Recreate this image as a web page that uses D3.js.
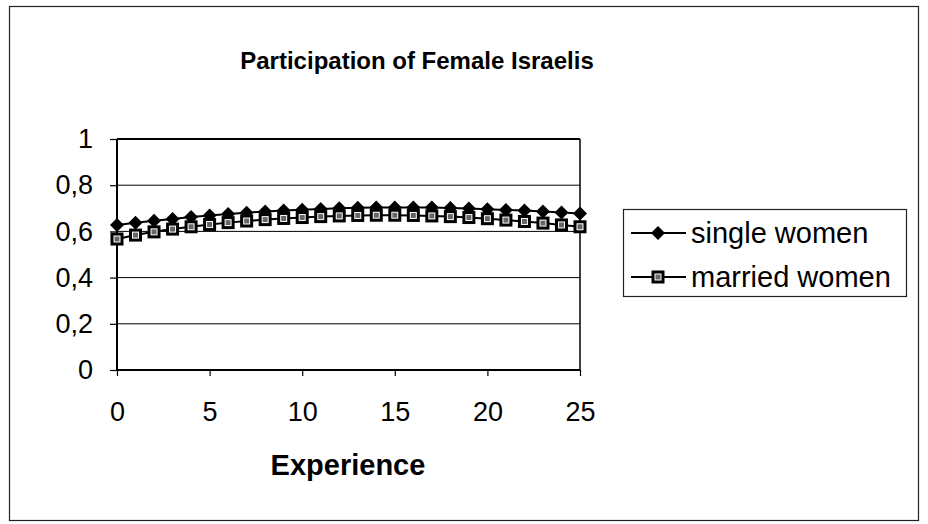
<!DOCTYPE html>
<html>
<head>
<meta charset="utf-8">
<title>Participation of Female Israelis</title>
<script src="https://d3js.org/d3.v7.min.js"></script>
<style>
    body { margin: 0; background: #fff; }
    svg text { font-family: "Liberation Sans", Arial, sans-serif; fill: #000; }
    .title { font-weight: bold; font-size: 24px; }
    .xlabel { font-weight: bold; font-size: 29px; }
    .tick text { font-size: 27px; }
    .legend text { font-size: 29px; }
</style>
</head>
<body>
<script>
// experience years 0..25
var experience = [0,1,2,3,4,5,6,7,8,9,10,11,12,13,14,15,16,17,18,19,20,21,22,23,24,25];
var singleWomen = [0.628,0.637,0.646,0.654,0.662,0.669,0.675,0.681,0.686,0.690,0.694,0.697,0.700,0.702,0.704,0.704,0.704,0.703,0.701,0.699,0.696,0.693,0.690,0.686,0.682,0.678];
var marriedWomen = [0.567,0.584,0.598,0.610,0.620,0.630,0.638,0.645,0.651,0.656,0.660,0.664,0.667,0.669,0.670,0.670,0.669,0.667,0.664,0.660,0.655,0.649,0.643,0.636,0.628,0.620];
var yTicks = [0, 0.2, 0.4, 0.6, 0.8, 1];
var xTicks = [0, 5, 10, 15, 20, 25];
var seriesNames = ["single women", "married women"];

var width = 928, height = 524;
var plot = {left: 117, right: 580, top: 139, bottom: 370};

var svg = d3.select("body").append("svg")
    .attr("width", width)
    .attr("height", height);

// outer frame
svg.append("rect")
    .attr("x", 9.5).attr("y", 6.5)
    .attr("width", 909).attr("height", 514)
    .attr("fill", "none").attr("stroke", "#222").attr("stroke-width", 1.2);

var x = d3.scaleLinear().domain([0, 25]).range([plot.left, plot.right]);
var y = d3.scaleLinear().domain([0, 1]).range([plot.bottom, plot.top]);

svg.append("text")
    .attr("class", "title")
    .attr("x", 417).attr("y", 69)
    .attr("text-anchor", "middle")
    .text("Participation of Female Israelis");

// gridlines
svg.append("g")
    .selectAll("line")
    .data(yTicks.filter(function(d){ return d > 0; }))
    .enter().append("line")
    .attr("x1", plot.left).attr("x2", plot.right)
    .attr("y1", function(d){ return y(d); })
    .attr("y2", function(d){ return y(d); })
    .attr("stroke", "#000")
    .attr("stroke-width", function(d){ return d == 1 ? 2 : 1; });

// right border of plot
svg.append("line")
    .attr("x1", plot.right).attr("x2", plot.right)
    .attr("y1", plot.top).attr("y2", plot.bottom)
    .attr("stroke", "#000").attr("stroke-width", 1.5);

var yAxis = svg.append("g")
    .attr("transform", "translate(" + plot.left + ",0)")
    .call(d3.axisLeft(y).tickValues(yTicks).tickSize(7).tickPadding(17)
        .tickFormat(function(d){ return String(d).replace(".", ","); }));

var xAxis = svg.append("g")
    .attr("transform", "translate(0," + plot.bottom + ")")
    .call(d3.axisBottom(x).tickValues(xTicks).tickSize(6).tickPadding(26));

[yAxis, xAxis].forEach(function(a){
    a.select(".domain").attr("stroke", "#000").attr("stroke-width", 2);
    a.selectAll(".tick line").attr("stroke", "#000").attr("stroke-width", 1.2);
});
xAxis.select(".domain").attr("d", "M" + plot.left + ",0H" + plot.right);
yAxis.select(".domain").attr("d", "M0," + plot.bottom + "V" + plot.top);

svg.append("text")
    .attr("class", "xlabel")
    .attr("x", 348).attr("y", 475)
    .attr("text-anchor", "middle")
    .text("Experience");

var line = d3.line()
    .x(function(d, i){ return x(experience[i]); })
    .y(function(d){ return y(d); });

svg.append("path").datum(singleWomen)
    .attr("d", line).attr("fill", "none")
    .attr("stroke", "#000").attr("stroke-width", 2);
svg.append("path").datum(marriedWomen)
    .attr("d", line).attr("fill", "none")
    .attr("stroke", "#000").attr("stroke-width", 2);

function diamond(g, cx, cy, r) {
    g.append("path")
        .attr("d", "M" + cx + "," + (cy - r) + "L" + (cx + r) + "," + cy +
                   "L" + cx + "," + (cy + r) + "L" + (cx - r) + "," + cy + "Z")
        .attr("fill", "#000");
}
function square(g, cx, cy, s) {
    g.append("rect")
        .attr("x", cx - s/2).attr("y", cy - s/2)
        .attr("width", s).attr("height", s)
        .attr("fill", "#fff").attr("stroke", "#000").attr("stroke-width", 3);
    g.append("rect")
        .attr("x", cx - s/4).attr("y", cy - s/4)
        .attr("width", s/2).attr("height", s/2)
        .attr("fill", "#666");
}

var marks = svg.append("g");
singleWomen.forEach(function(d, i){ diamond(marks, x(experience[i]), y(d), 7); });
marriedWomen.forEach(function(d, i){ square(marks, x(experience[i]), y(d), 10); });

// legend
var legend = svg.append("g").attr("class", "legend");
legend.append("rect")
    .attr("x", 623.5).attr("y", 209.5)
    .attr("width", 283).attr("height", 87)
    .attr("fill", "#fff").attr("stroke", "#222").attr("stroke-width", 1.2);

seriesNames.forEach(function(name, i){
    var ly = 233 + i * 44;
    legend.append("line")
        .attr("x1", 631).attr("x2", 686)
        .attr("y1", ly).attr("y2", ly)
        .attr("stroke", "#000").attr("stroke-width", 2);
    if (i == 0) diamond(legend, 658, ly, 7);
    else square(legend, 658, ly, 10);
    legend.append("text")
        .attr("x", 691).attr("y", ly + 10)
        .text(name);
});
</script>
</body>
</html>
